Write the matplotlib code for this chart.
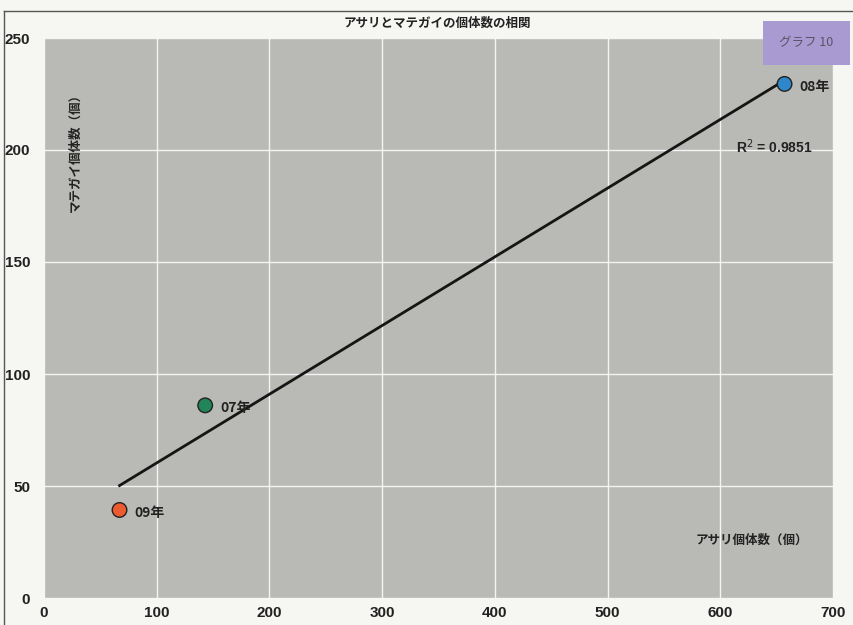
import numpy as np
import matplotlib
matplotlib.use("Agg")
import matplotlib.pyplot as plt
from matplotlib.patches import Rectangle
from matplotlib.lines import Line2D

plt.rcParams['font.family'] = ['Noto Sans CJK JP', 'DejaVu Sans']

years = ["07年", "08年", "09年"]
asari = [143, 657, 67]        # x: アサリ個体数
mategai = [86, 229.5, 39.3]   # y: マテガイ個体数
colors = ["#22855a", "#2f86c8", "#ec5a30"]
r2_text = "0.9851"

W, H = 854, 625
fig = plt.figure(figsize=(W / 100, H / 100), dpi=100)
fig.patch.set_facecolor("#f6f6f3")

def fx(px):
    return px / W

def fy(py):
    return 1 - py / H

ax = fig.add_axes([fx(44), fy(598), fx(833) - fx(44), fy(38) - fy(598)])
ax.set_facecolor("#b9b9b6")
ax.set_xlim(0, 700)
ax.set_ylim(0, 250)
ax.set_xticks(range(0, 701, 100))
ax.set_yticks(range(0, 251, 50))
ax.grid(True, color="white", linewidth=1.0, alpha=0.85)
ax.set_axisbelow(True)
for s in ax.spines.values():
    s.set_visible(False)
ax.tick_params(length=0, labelsize=11, colors="#222222")
for lab in ax.get_xticklabels() + ax.get_yticklabels():
    lab.set_fontweight("bold")
    lab.set_family(["Liberation Sans", "DejaVu Sans"])
ax.tick_params(axis="x", pad=6)
ax.tick_params(axis="y", pad=10)

# trend line
coef = np.polyfit(asari, mategai, 1)
xs = np.array([min(asari), max(asari)])
ax.plot(xs, np.polyval(coef, xs), color="#151515", linewidth=2.0, zorder=2)

ax.scatter(asari, mategai, s=110, c=colors, edgecolors="#222222", linewidths=1.0, zorder=3)
for x, y, lab in zip(asari, mategai, years):
    ax.annotate(lab, (x, y), xytext=(11, -2), textcoords="offset points",
                fontsize=10, fontweight="bold", color="#222222", va="center",
                annotation_clip=False, clip_on=True)

ax.text(0.925, 0.805, "R$^2$ = " + r2_text, transform=ax.transAxes, fontsize=10,
        fontweight="bold", color="#222222", ha="center", va="center",
        family=["Liberation Sans", "DejaVu Sans"])

ax.text(0.04, 0.80, "マテガイ個体数（個）", transform=ax.transAxes, rotation=90,
        fontsize=9, fontweight="bold", color="#222222", ha="center", va="center")
ax.text(0.897, 0.104, "アサリ個体数（個）", transform=ax.transAxes,
        fontsize=9, fontweight="bold", color="#222222", ha="center", va="center")

fig.text(fx(437), fy(23), "アサリとマテガイの個体数の相関", fontsize=9, fontweight="bold",
         color="#222222", ha="center", va="center")

# frame lines of the scanned page
fig.add_artist(Line2D([fx(4), fx(854)], [fy(11), fy(11)], color="#555555", linewidth=1.0))
fig.add_artist(Line2D([fx(4), fx(4)], [fy(11), fy(625)], color="#555555", linewidth=1.0))

# graph label box
fig.add_artist(Rectangle((fx(763), fy(65)), fx(850) - fx(763), fy(21) - fy(65),
                         facecolor="#a99bd2", edgecolor="none", transform=fig.transFigure, zorder=5))
fig.text(fx(806), fy(43), "グラフ 10", fontsize=9, color="#555566", ha="center", va="center",
         style="italic", zorder=6)

fig.savefig("out.png", dpi=100, facecolor=fig.get_facecolor())
